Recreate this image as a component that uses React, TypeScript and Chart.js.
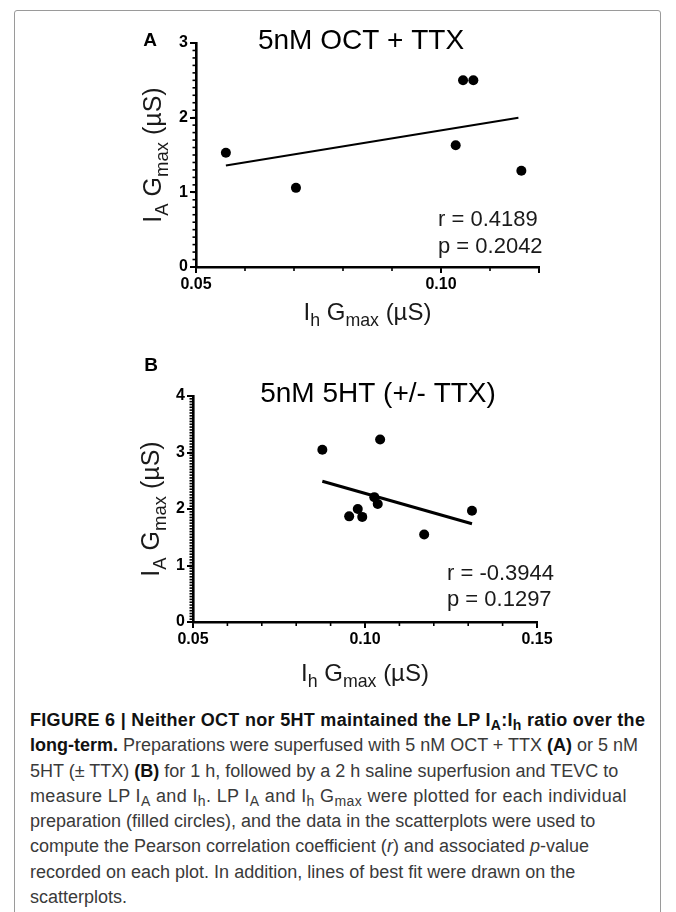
import React, { useEffect, useRef } from 'react';
import { Chart, registerables } from 'chart.js';

Chart.register(...registerables);

const FONT = "'Liberation Sans', Arial, Helvetica, sans-serif";

// ---------- Panel A: 5nM OCT + TTX ----------
const aX = [0.0561, 0.0704, 0.103, 0.1045, 0.1066, 0.1164];
const aY = [1.53, 1.06, 1.63, 2.5, 2.5, 1.29];
const aFitX = [0.0561, 0.1158];
const aFitY = [1.36, 2.0];
const aXTicks = [0.05, 0.1, 0.12];
const aXLabels = ['0.05', '0.10', ''];
const aYTicks = [0, 1, 2, 3];
const aYLabels = ['0', '1', '2', '3'];
const aTitle = '5nM OCT + TTX';
const aStats = ['r = 0.4189', 'p = 0.2042'];

// ---------- Panel B: 5nM 5HT (+/- TTX) ----------
const bX = [0.0876, 0.1044, 0.0979, 0.0954, 0.0992, 0.1027, 0.1037, 0.1172, 0.1311];
const bY = [3.05, 3.23, 2.0, 1.87, 1.86, 2.21, 2.09, 1.55, 1.97];
const bFitX = [0.0876, 0.1311];
const bFitY = [2.49, 1.74];
const bXTicks = [0.05, 0.1, 0.15];
const bXLabels = ['0.05', '0.10', '0.15'];
const bYTicks = [0, 1, 2, 3, 4];
const bYLabels = ['0', '1', '2', '3', '4'];
const bTitle = '5nM 5HT (+/- TTX)';
const bStats = ['r = -0.3944', 'p = 0.1297'];

type Seg = { t: string; sub?: boolean };
const xTitleSegs: Seg[] = [
  { t: 'I' }, { t: 'h', sub: true }, { t: ' G' }, { t: 'max', sub: true }, { t: ' (\u00B5S)' },
];
const yTitleSegs: Seg[] = [
  { t: 'I' }, { t: 'A', sub: true }, { t: ' G' }, { t: 'max', sub: true }, { t: ' (\u00B5S)' },
];

function drawRich(ctx: CanvasRenderingContext2D, segs: Seg[], cx: number, cy: number, size: number, rot: number) {
  const subSize = size * 0.74;
  ctx.save();
  ctx.translate(cx, cy);
  ctx.rotate(rot);
  let total = 0;
  const widths = segs.map((s) => {
    ctx.font = `${s.sub ? subSize : size}px ${FONT}`;
    const w = ctx.measureText(s.t).width;
    total += w;
    return w;
  });
  let x = -total / 2;
  ctx.textBaseline = 'alphabetic';
  ctx.textAlign = 'left';
  ctx.fillStyle = '#1a1a1a';
  segs.forEach((s, i) => {
    ctx.font = `${s.sub ? subSize : size}px ${FONT}`;
    ctx.fillText(s.t, x, size * 0.36 + (s.sub ? size * 0.28 : 0));
    x += widths[i];
  });
  ctx.restore();
}

type Spec = {
  xs: number[]; ys: number[]; fitX: number[]; fitY: number[];
  xMin: number; xMax: number; yMin: number; yMax: number;
  xTicks: number[]; xLabels: string[]; yTicks: number[]; yLabels: string[];
  xMinor: number; yMinor: number;
  letter: string; letterPos: [number, number];
  title: string; titlePos: [number, number];
  stats: string[]; statsPos: [number, number, number];
  xTitleY: number; yTitleX: number;
  padding: { left: number; right: number; top: number; bottom: number };
  fitWidth: number;
};

function buildConfig(s: Spec): any {
  const overlay = {
    id: 'overlay_' + s.letter,
    afterDraw(chart: any) {
      const { ctx, chartArea } = chart;
      const xs = chart.scales.x;
      const ys = chart.scales.y;
      ctx.save();
      // minor ticks
      ctx.strokeStyle = '#000';
      ctx.lineWidth = 1.6;
      const nx = Math.round((s.xMax - s.xMin) / s.xMinor);
      for (let i = 0; i <= nx; i++) {
        const px = xs.getPixelForValue(s.xMin + i * s.xMinor);
        ctx.beginPath();
        ctx.moveTo(px, chartArea.bottom);
        ctx.lineTo(px, chartArea.bottom + 4);
        ctx.stroke();
      }
      const ny = Math.round((s.yMax - s.yMin) / s.yMinor);
      for (let i = 0; i <= ny; i++) {
        const py = ys.getPixelForValue(s.yMin + i * s.yMinor);
        ctx.beginPath();
        ctx.moveTo(chartArea.left, py);
        ctx.lineTo(chartArea.left - 3.5, py);
        ctx.stroke();
      }
      // panel letter
      ctx.fillStyle = '#000';
      ctx.font = `bold 19px ${FONT}`;
      ctx.textAlign = 'center';
      ctx.textBaseline = 'middle';
      ctx.fillText(s.letter, s.letterPos[0], s.letterPos[1]);
      // title
      ctx.font = `28px ${FONT}`;
      ctx.fillText(s.title, s.titlePos[0], s.titlePos[1]);
      // stats
      ctx.font = `22px ${FONT}`;
      ctx.textAlign = 'left';
      ctx.fillStyle = '#1a1a1a';
      ctx.fillText(s.stats[0], s.statsPos[0], s.statsPos[1]);
      ctx.fillText(s.stats[1], s.statsPos[0], s.statsPos[2]);
      ctx.restore();
      // axis titles
      drawRich(ctx, xTitleSegs, (chartArea.left + chartArea.right) / 2, s.xTitleY, 24, 0);
      drawRich(ctx, yTitleSegs, s.yTitleX, (chartArea.top + chartArea.bottom) / 2, 25, -Math.PI / 2);
    },
  };

  const tickFont = { family: FONT, size: 16, weight: 'bold' as const };
  return {
    type: 'scatter',
    data: {
      datasets: [
        {
          label: 'points',
          data: s.xs.map((x, i) => ({ x, y: s.ys[i] })),
          backgroundColor: '#000',
          borderColor: '#000',
          borderWidth: 0,
          pointRadius: 5,
          pointHoverRadius: 5,
        },
        {
          label: 'fit',
          data: s.fitX.map((x, i) => ({ x, y: s.fitY[i] })),
          showLine: true,
          borderColor: '#000',
          borderWidth: s.fitWidth,
          pointRadius: 0,
          fill: false,
        },
      ],
    },
    options: {
      animation: false,
      responsive: false,
      events: [],
      layout: { padding: s.padding },
      plugins: { legend: { display: false }, tooltip: { enabled: false }, title: { display: false } },
      scales: {
        x: {
          type: 'linear',
          min: s.xMin,
          max: s.xMax,
          afterBuildTicks: (sc: any) => { sc.ticks = s.xTicks.map((v) => ({ value: v })); },
          ticks: {
            callback: (_v: any, i: number) => s.xLabels[i] ?? '',
            font: tickFont,
            color: '#000',
            padding: 2,
            maxRotation: 0,
            autoSkip: false,
          },
          grid: { drawOnChartArea: false, drawTicks: true, tickLength: 6, color: '#000', lineWidth: 2 },
          border: { display: true, color: '#000', width: 2.6 },
          afterFit: (sc: any) => { sc.height = 50; sc.paddingLeft = 0; sc.paddingRight = 0; },
        },
        y: {
          type: 'linear',
          min: s.yMin,
          max: s.yMax,
          afterBuildTicks: (sc: any) => { sc.ticks = s.yTicks.map((v) => ({ value: v })); },
          ticks: {
            callback: (_v: any, i: number) => s.yLabels[i] ?? '',
            font: tickFont,
            color: '#000',
            padding: 2,
            autoSkip: false,
          },
          grid: { drawOnChartArea: false, drawTicks: true, tickLength: 6, color: '#000', lineWidth: 2 },
          border: { display: true, color: '#000', width: 2.6 },
          afterFit: (sc: any) => { sc.width = 30; sc.paddingTop = 0; sc.paddingBottom = 0; },
        },
      },
    },
    plugins: [overlay],
  };
}

const specA: Spec = {
  xs: aX, ys: aY, fitX: aFitX, fitY: aFitY,
  xMin: 0.05, xMax: 0.12, yMin: 0, yMax: 3,
  xTicks: aXTicks, xLabels: aXLabels, yTicks: aYTicks, yLabels: aYLabels,
  xMinor: 0.01, yMinor: 0.1,
  letter: 'A', letterPos: [150, 41],
  title: aTitle, titlePos: [361, 41],
  stats: aStats, statsPos: [438, 220, 247],
  xTitleY: 311, yTitleX: 152,
  padding: { left: 166, right: 137, top: 43, bottom: 23 },
  fitWidth: 2,
};

const specB: Spec = {
  xs: bX, ys: bY, fitX: bFitX, fitY: bFitY,
  xMin: 0.05, xMax: 0.15, yMin: 0, yMax: 4,
  xTicks: bXTicks, xLabels: bXLabels, yTicks: bYTicks, yLabels: bYLabels,
  xMinor: 0.01, yMinor: 0.05,
  letter: 'B', letterPos: [151, 26],
  title: bTitle, titlePos: [378, 54],
  stats: bStats, statsPos: [447, 234, 260],
  xTitleY: 332, yTitleX: 150,
  padding: { left: 163, right: 139, top: 56, bottom: 28 },
  fitWidth: 3,
};

function Panel({ spec, top, height }: { spec: Spec; top: number; height: number }) {
  const ref = useRef<HTMLCanvasElement>(null);
  useEffect(() => {
    const chart = new Chart(ref.current as HTMLCanvasElement, buildConfig(spec));
    return () => chart.destroy();
  }, [spec]);
  return (
    <canvas
      ref={ref}
      width={676}
      height={height}
      style={{ position: 'absolute', left: 0, top, width: 676, height }}
    />
  );
}

const sub = (t: string) => (
  <sub style={{ fontSize: '0.78em', lineHeight: 0, verticalAlign: '-0.28em' }}>{t}</sub>
);

const PLUSMINUS = '\u00B1';

export default function App() {
  const lineStyle: React.CSSProperties = { height: 25.3, lineHeight: '25.3px', whiteSpace: 'nowrap' };
  const boldStyle: React.CSSProperties = { color: '#111' };
  return (
    <div style={{ position: 'absolute', left: 0, top: 0, width: 676, height: 912, background: '#fff', overflow: 'hidden' }}>
      <div
        style={{
          position: 'absolute', left: 14, top: 10, width: 647, height: 930,
          border: '1px solid #9a9a9a', borderRadius: 3, boxSizing: 'border-box',
        }}
      />
      <Panel spec={specA} top={0} height={340} />
      <Panel spec={specB} top={340} height={360} />
      <div
        style={{
          position: 'absolute', left: 30, top: 708, width: 630,
          fontFamily: FONT, fontSize: 18, color: '#3a3a3a',
        }}
      >
        <div style={{ ...lineStyle, letterSpacing: '0.3px' }}>
          <b style={boldStyle}>FIGURE 6 | Neither OCT nor 5HT maintained the LP I{sub('A')}:I{sub('h')} ratio over the</b>
        </div>
        <div style={lineStyle}>
          <b style={boldStyle}>long-term.</b> Preparations were superfused with 5 nM OCT + TTX <b style={boldStyle}>(A)</b> or 5 nM
        </div>
        <div style={lineStyle}>
          5HT ({PLUSMINUS} TTX) <b style={boldStyle}>(B)</b> for 1 h, followed by a 2 h saline superfusion and TEVC to
        </div>
        <div style={{ ...lineStyle, letterSpacing: '0.35px' }}>
          measure LP I{sub('A')} and I{sub('h')}. LP I{sub('A')} and I{sub('h')} G{sub('max')} were plotted for each individual
        </div>
        <div style={lineStyle}>preparation (filled circles), and the data in the scatterplots were used to</div>
        <div style={lineStyle}>
          compute the Pearson correlation coefficient (<i>r</i>) and associated <i>p</i>-value
        </div>
        <div style={lineStyle}>recorded on each plot. In addition, lines of best fit were drawn on the</div>
        <div style={lineStyle}>scatterplots.</div>
      </div>
    </div>
  );
}
